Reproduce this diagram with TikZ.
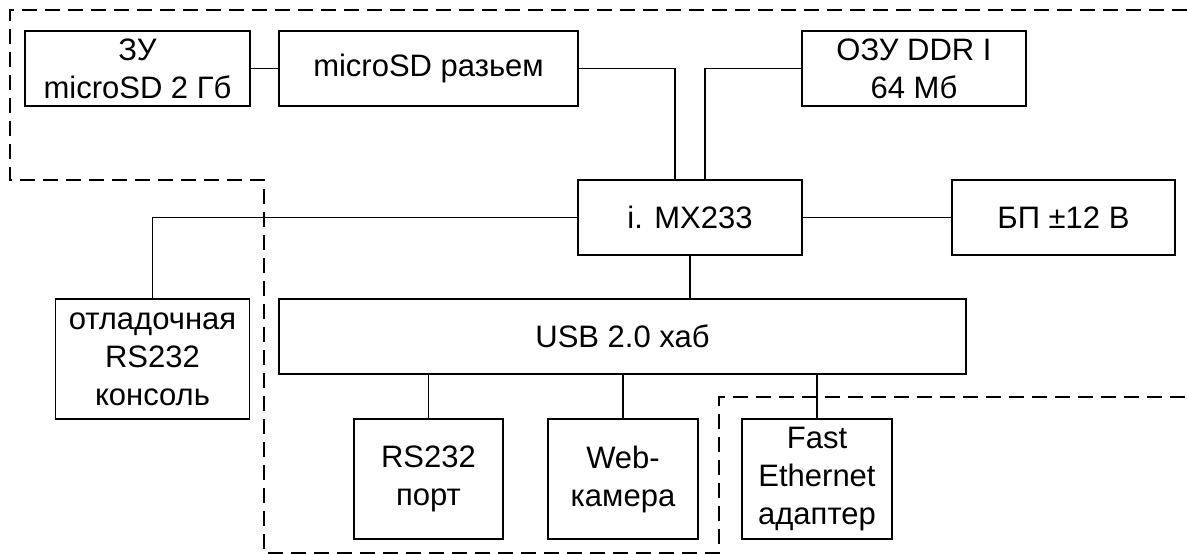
\documentclass[tikz,border=0pt]{standalone}
\usepackage{fontspec}
\setmainfont{Liberation Sans}
\begin{document}
\begin{tikzpicture}[x=1pt,y=-1pt,
  box/.style={draw, line width=1.3pt, inner sep=0pt, align=center,
    font=\fontsize{31}{38}\selectfont},
  wire/.style={line width=1.3pt},
  bound/.style={line width=1.3pt, dash pattern=on 15pt off 8pt}]
\useasboundingbox (0,0) rectangle (1187,554);
% boxes
\node[box, minimum width=225pt, minimum height=75pt] (zu) at (137.5,68.5) {ЗУ\\microSD 2 Гб};
\node[box, minimum width=299pt, minimum height=75pt] (sd) at (428.5,68.5) {microSD разьем};
\node[box, minimum width=224pt, minimum height=75pt] (ozu) at (914,68.5) {ОЗУ DDR I\\64 Мб};
\node[box, minimum width=224pt, minimum height=75pt] (mx) at (690,217.5) {i. MX233};
\node[box, minimum width=223pt, minimum height=75pt] (bp) at (1063.5,217.5) {БП ±12 В};
\node[box, minimum width=194pt, minimum height=120pt] (con) at (152.5,359) {отладочная\\RS232\\консоль};
\node[box, minimum width=687pt, minimum height=75pt] (usb) at (622.5,336.5) {USB 2.0 хаб};
\node[box, minimum width=149pt, minimum height=120pt] (rs) at (428.5,479) {RS232\\порт};
\node[box, minimum width=150pt, minimum height=120pt] (cam) at (623,479) {Web-\\камера};
\node[box, minimum width=150pt, minimum height=120pt] (fe) at (817,479) {Fast\\Ethernet\\адаптер};
% connectors
\draw[wire] (zu.east) -- (sd.west);
\draw[wire] (sd.east) -| ([xshift=-15pt]mx.north);
\draw[wire] (ozu.west) -| ([xshift=15pt]mx.north);
\draw[wire] (mx.east) -- (bp.west);
\draw[wire] (mx.west) -| (con.north);
\draw[wire] (mx.south) -- (mx.south |- usb.north);
\draw[wire] (rs.north) -- (rs.north |- usb.south);
\draw[wire] (cam.north) -- (cam.north |- usb.south);
\draw[wire] (fe.north) -- (fe.north |- usb.south);
% dashed boundary
\draw[bound] (1187,10) -- (10,10) -- (10,180) -- (264,180) -- (264,553) -- (719,553) -- (719,397) -- (1187,397);
\end{tikzpicture}
\end{document}
